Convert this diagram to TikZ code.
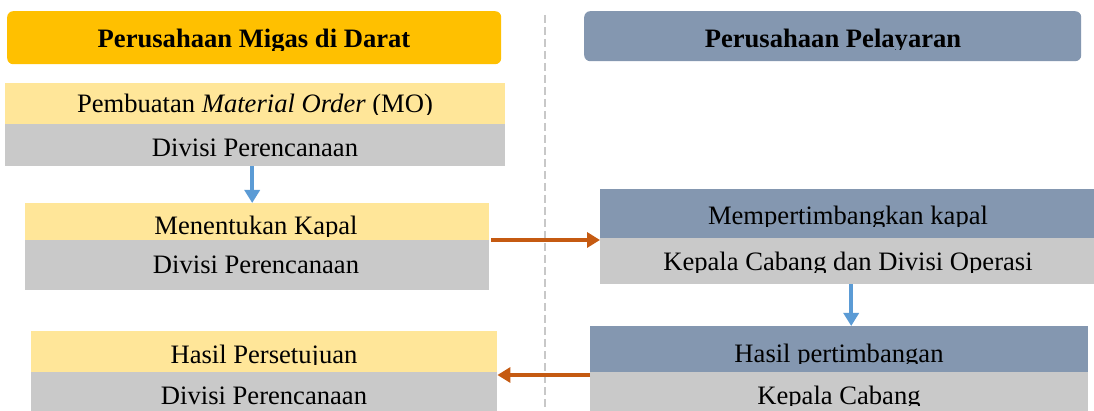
\documentclass[tikz,border=0pt]{standalone}
\usepackage{fontspec}
\setmainfont{Liberation Serif}
\usetikzlibrary{arrows.meta}
\definecolor{hdryellow}{HTML}{FFC000}
\definecolor{hdrblue}{HTML}{8497B0}
\definecolor{lightyellow}{HTML}{FFE699}
\definecolor{boxgray}{HTML}{C9C9C9}
\definecolor{arrowblue}{HTML}{5B9BD5}
\definecolor{arroworange}{HTML}{C55A11}
\definecolor{dashgray}{HTML}{C8C8C8}
\tikzset{
  hdr/.style={rounded corners=6pt, inner sep=0pt, anchor=north west},
  band/.style={inner sep=0pt, anchor=north west, draw=none},
  txt/.style={anchor=base, inner sep=0pt, font=\fontsize{26.6}{32}\selectfont},
  hdrtxt/.style={anchor=base, inner sep=0pt, font=\fontsize{26.6}{32}\selectfont\bfseries},
  barrow/.style={draw=arrowblue, line width=3.5pt, -{Triangle[length=13pt,width=15pt]}},
  oarrow/.style={draw=arroworange, line width=3.5pt, -{Triangle[length=13pt,width=15pt]}},
}
% #1 style, #2 name, #3 x, #4 baseline y, #5 clip y, #6 text
\newcommand\myclippedtext[6]{%
  \begin{scope}
    \clip (#3-300,#4-40) rectangle (#3+300,#5);
    \node[#1] (#2) at (#3,#4) {#6};
  \end{scope}}
\begin{document}
\begin{tikzpicture}[x=1pt,y=-1pt]
\useasboundingbox[fill=white] (0,0) rectangle (1094,411);
% divider
\draw[dashgray, line width=1.2pt, dash pattern=on 8pt off 4pt] (545,15) -- (545,411);
% headers
\node[hdr, fill=hdryellow, minimum width=494pt, minimum height=53pt] (hl) at (7,11) {};
\myclippedtext{hdrtxt}{hlt}{254}{48}{51}{Perusahaan Migas di Darat}
\node[hdr, fill=hdrblue, minimum width=497pt, minimum height=50pt] (hr) at (584,11) {};
\myclippedtext{hdrtxt}{hrt}{833}{48}{49.5}{Perusahaan Pelayaran}
% left column
\node[band, fill=lightyellow, minimum width=500pt, minimum height=41pt] (mo) at (5,83) {};
\node[band, fill=boxgray, minimum width=500pt, minimum height=42pt] (mog) at (5,124) {};
\myclippedtext{txt}{mot}{255}{113}{114.2}{Pembuatan \textit{Material Order} (MO)}
\myclippedtext{txt}{mogt}{255}{157}{158.2}{Divisi Perencanaan}
\node[band, fill=lightyellow, minimum width=464pt, minimum height=37pt] (mk) at (25,203) {};
\node[band, fill=boxgray, minimum width=464pt, minimum height=50pt] (mkg) at (25,240) {};
\myclippedtext{txt}{mkt}{256}{235}{236.2}{Menentukan Kapal}
\node[txt] (mkgt) at (256,274) {Divisi Perencanaan};
\node[band, fill=lightyellow, minimum width=466pt, minimum height=41pt] (hs) at (31,331) {};
\node[band, fill=boxgray, minimum width=466pt, minimum height=40pt] (hsg) at (31,372) {};
\myclippedtext{txt}{hst}{264}{363}{364.2}{Hasil Persetujuan}
\myclippedtext{txt}{hsgt}{264}{404}{405.2}{Divisi Perencanaan}
% right column
\node[band, fill=hdrblue, minimum width=494pt, minimum height=49pt] (mp) at (600,189) {};
\node[band, fill=boxgray, minimum width=494pt, minimum height=46pt] (mpg) at (600,238) {};
\myclippedtext{txt}{mpt}{848}{225}{226.5}{Mempertimbangkan kapal}
\myclippedtext{txt}{mpgt}{848}{271}{272.2}{Kepala Cabang dan Divisi Operasi}
\node[band, fill=hdrblue, minimum width=498pt, minimum height=46pt] (hp) at (590,326) {};
\node[band, fill=boxgray, minimum width=498pt, minimum height=40pt] (hpg) at (590,372) {};
\myclippedtext{txt}{hpt}{839}{362}{363.2}{Hasil pertimbangan}
\myclippedtext{txt}{hpgt}{839}{404}{405.2}{Kepala Cabang}
% connectors
\draw[barrow] ([xshift=-3pt]mog.south) -- ([xshift=-3pt]mog.south |- mk.north);
\draw[oarrow] ([xshift=2pt]mkg.north east) -- (mkg.north east -| mpg.west);
\draw[barrow] ([xshift=4pt]mpg.south) -- ([xshift=4pt]mpg.south |- hp.north);
\draw[oarrow] ([yshift=-3pt]hpg.north west) -- ([yshift=-3pt]hpg.north west -| hs.east);
\end{tikzpicture}
\end{document}
